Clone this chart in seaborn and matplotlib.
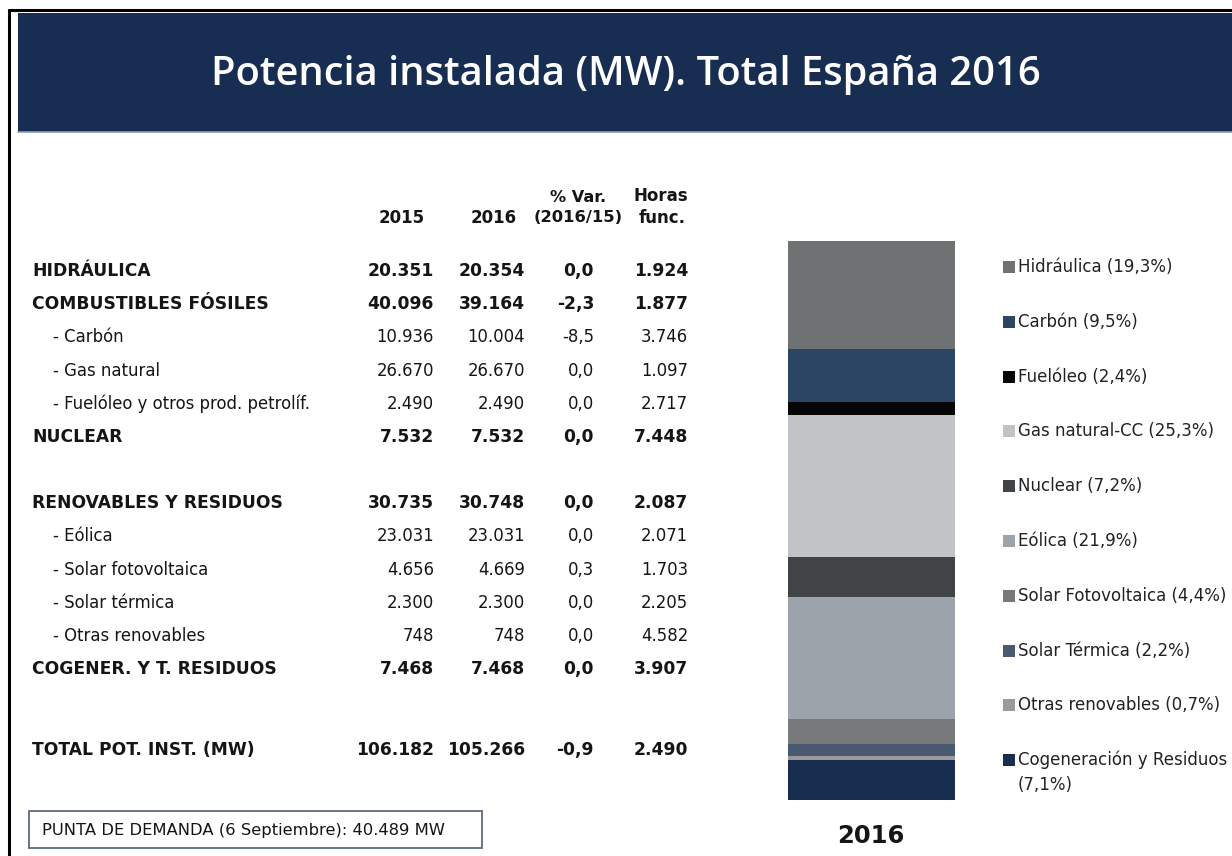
import numpy as np
import matplotlib
matplotlib.use('Agg')
import matplotlib.pyplot as plt
from matplotlib.patches import Rectangle
from matplotlib.lines import Line2D
import seaborn as sns

# ------------ datos ------------
filas = ['HIDRÁULICA', 'COMBUSTIBLES FÓSILES', '- Carbón', '- Gas natural',
         '- Fuelóleo y otros prod. petrolíf.', 'NUCLEAR',
         'RENOVABLES Y RESIDUOS', '- Eólica', '- Solar fotovoltaica',
         '- Solar térmica', '- Otras renovables', 'COGENER. Y T. RESIDUOS',
         'TOTAL POT. INST. (MW)']
mw_2015 = [20351, 40096, 10936, 26670, 2490, 7532,
           30735, 23031, 4656, 2300, 748, 7468, 106182]
mw_2016 = [20354, 39164, 10004, 26670, 2490, 7532,
           30748, 23031, 4669, 2300, 748, 7468, 105266]
var_pct = [0.0, -2.3, -8.5, 0.0, 0.0, 0.0,
           0.0, 0.0, 0.3, 0.0, 0.0, 0.0, -0.9]
horas = [1924, 1877, 3746, 1097, 2717, 7448,
         2087, 2071, 1703, 2205, 4582, 3907, 2490]

tecnologias = ['Hidráulica', 'Carbón', 'Fuelóleo', 'Gas natural-CC', 'Nuclear',
               'Eólica', 'Solar Fotovoltaica', 'Solar Térmica',
               'Otras renovables', 'Cogeneración y Residuos']
potencia_2016 = [20354, 10004, 2490, 26670, 7532, 23031, 4669, 2300, 748, 7468]
colores = ['#6f7273', '#2c4563', '#050505', '#c0c4c6', '#414447',
           '#9da3aa', '#77797b', '#4a5870', '#9a9a9a', '#182d50']

punta = 'PUNTA DE DEMANDA (6 Septiembre): 40.489 MW'

# ------------ estilo ------------
sns.set_theme(style='white')
plt.rcParams['font.family'] = ['DejaVu Sans']

W, H = 1232, 856
fig = plt.figure(figsize=(W / 100, H / 100), dpi=100)
fig.patch.set_facecolor('white')


def fx(x):
    return x / W


def fy(y):
    return 1 - y / H


def txt(x, y, s, size, bold=False, ha='left', color='#151515', **kw):
    fig.text(fx(x), fy(y), s, fontsize=size, ha=ha, va='center',
             fontweight='bold' if bold else 'normal', color=color, **kw)


# marco y cabecera
fig.add_artist(Line2D([fx(9), fx(9)], [fy(10), fy(856)], color='black', lw=2.2,
                      transform=fig.transFigure))
fig.add_artist(Line2D([fx(9), fx(1232)], [fy(10), fy(10)], color='black', lw=2.2,
                      transform=fig.transFigure))
fig.add_artist(Rectangle((fx(18), fy(132)), fx(1232 - 18), 119 / H,
                         facecolor='#172e52', edgecolor='none',
                         transform=fig.transFigure))
fig.add_artist(Line2D([fx(18), fx(1232)], [fy(132), fy(132)], color='#8c9db6', lw=1.2,
                      transform=fig.transFigure))
fig.text(fx(626), fy(75), 'Potencia instalada (MW). Total España 2016',
         fontsize=28.7, color='white', ha='center', va='center',
         family=['Open Sans', 'DejaVu Sans'], fontweight='semibold')

# ------------ tabla ------------
txt(425, 218, '2015', 12, bold=True, ha='right')
txt(517, 218, '2016', 12, bold=True, ha='right')
txt(578, 198, '% Var.', 11.6, bold=True, ha='center')
txt(578, 218, '(2016/15)', 11.8, bold=True, ha='center')
txt(661, 196, 'Horas', 12, bold=True, ha='center')
txt(662, 218, 'func.', 12, bold=True, ha='center')

slots = [0, 1, 2, 3, 4, 5, 7, 8, 9, 10, 11, 12, 14.44]
col_x = [434, 525, 594, 688]


def miles(v):
    return f'{v:,}'.replace(',', '.')


for i, nombre in enumerate(filas):
    y = 271 + slots[i] * 33.17
    principal = not nombre.startswith('- ')
    size = 12.3 if principal else 11.9
    txt(32 if principal else 53, y, nombre, size, bold=principal)
    valores = [miles(mw_2015[i]), miles(mw_2016[i]),
               f'{var_pct[i]:.1f}'.replace('.', ','), miles(horas[i])]
    for xv, s in zip(col_x, valores):
        txt(xv, y, s, size, bold=principal, ha='right')

fig.add_artist(Rectangle((fx(29), fy(848)), fx(482 - 29), 37 / H,
                         facecolor='none', edgecolor='#5d6b7f', lw=1.3,
                         transform=fig.transFigure))
txt(42, 830, punta, 11.8)

# ------------ barra apilada ------------
ax = fig.add_axes([fx(788), fy(800), fx(955 - 788), 559 / H])
acumulado = np.cumsum(potencia_2016[::-1])[::-1]  # de arriba a abajo
for tope, color in zip(acumulado, colores):
    sns.barplot(x=['2016'], y=[tope], color=color, width=1, saturation=1,
                linewidth=0, ax=ax)
ax.set_xlim(-0.5, 0.5)
ax.set_ylim(0, acumulado[0])
ax.axis('off')
txt(871, 836, '2016', 17.5, bold=True, ha='center')

# leyenda
total = sum(potencia_2016)
for k, (nombre, v, c) in enumerate(zip(tecnologias, potencia_2016, colores)):
    y = 267 + k * 54.8
    pct = f'{100 * v / total:.1f}'.replace('.', ',')
    fig.add_artist(Rectangle((fx(1003), fy(y + 6)), fx(12), 12 / H,
                             facecolor=c, edgecolor='none',
                             transform=fig.transFigure))
    if len(nombre) > 20:
        txt(1018, y, nombre, 12, color='#222222')
        txt(1018, y + 25, f'({pct}%)', 12, color='#222222')
    else:
        txt(1018, y, f'{nombre} ({pct}%)', 12, color='#222222')

fig.savefig('out.png', dpi=100)
